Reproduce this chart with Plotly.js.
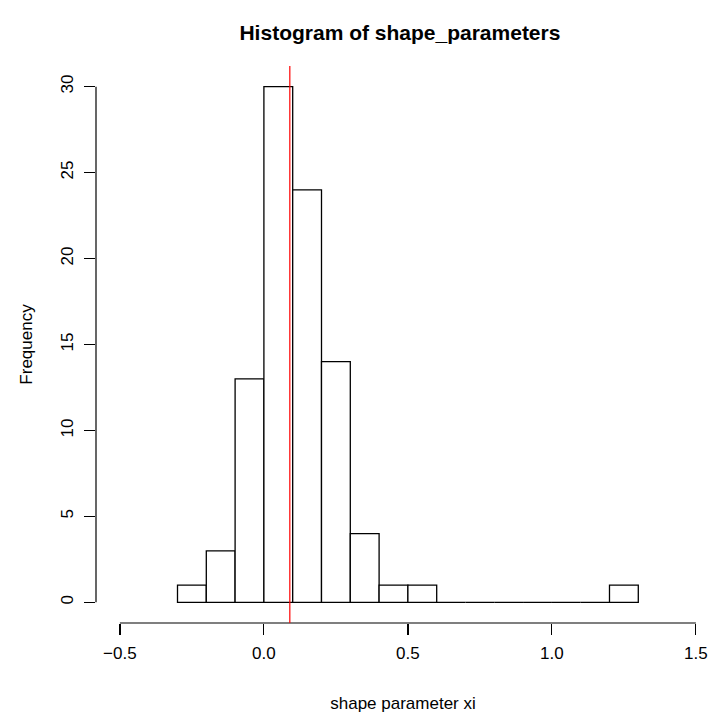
<!DOCTYPE html>
<html>
<head>
<meta charset="utf-8">
<script src="https://cdn.plot.ly/plotly-3.0.1.min.js"></script>
<style>html,body{margin:0;padding:0;background:#fff;}#chart{width:710px;height:713px;}</style>
</head>
<body>
<div id="chart"></div>
<script>
// Histogram bins (left edges, bin width 0.1) and counts
const binLeft = [-0.3, -0.2, -0.1, 0.0, 0.1, 0.2, 0.3, 0.4, 0.5, 0.6, 0.7, 0.8, 0.9, 1.0, 1.1, 1.2];
const counts  = [1, 3, 13, 30, 24, 14, 4, 1, 1, 0, 0, 0, 0, 0, 0, 1];
const binWidth = 0.1;
const xTicks = [-0.5, 0.0, 0.5, 1.0, 1.5];
const xTickLabels = ["\u22120.5", "0.0", "0.5", "1.0", "1.5"];
const yTicks = [0, 5, 10, 15, 20, 25, 30];
const refLine = 0.09;

const FONT = "Liberation Sans, Arial, Helvetica, sans-serif";

const trace = {
  type: "bar",
  x: binLeft,
  y: counts,
  width: binWidth,
  offset: 0,
  marker: {color: "#ffffff", line: {color: "#000000", width: 1.3}},
  hoverinfo: "x+y"
};

const layout = {
  width: 710, height: 713,
  paper_bgcolor: "#ffffff", plot_bgcolor: "#ffffff",
  margin: {l: 96, r: 0, t: 66, b: 90, pad: 0},
  showlegend: false,
  bargap: 0,
  title: {
    text: "<b>Histogram of shape_parameters</b>",
    font: {family: FONT, size: 21, color: "#000"},
    x: 0.495, xref: "paper", xanchor: "center",
    y: 27, yref: "container", yanchor: "middle"
  },
  xaxis: {
    range: [-0.583, 1.549],
    tickmode: "array", tickvals: xTicks, ticktext: xTickLabels,
    ticks: "outside", ticklen: 11, tickwidth: 1.2, tickcolor: "#000",
    showline: false, showgrid: false, zeroline: false,
    tickfont: {family: FONT, size: 17, color: "#000"},
    ticklabelstandoff: 4,
    title: {text: "shape parameter xi", font: {family: FONT, size: 17, color: "#000"}, standoff: 36}
  },
  yaxis: {
    range: [-1.2, 31.2],
    tickmode: "array", tickvals: yTicks,
    ticks: "outside", ticklen: 11, tickwidth: 1.2, tickcolor: "#000",
    tickangle: -90,
    showline: false, showgrid: false, zeroline: false,
    tickfont: {family: FONT, size: 17, color: "#000"},
    ticklabelstandoff: 4,
    title: {text: "Frequency", font: {family: FONT, size: 17, color: "#000"}, standoff: 21}
  },
  shapes: [
    {type: "line", xref: "x", yref: "paper", x0: xTicks[0], x1: xTicks[xTicks.length-1], y0: 0, y1: 0,
     line: {color: "#000", width: 1.2}},
    {type: "line", xref: "paper", yref: "y", x0: 0, x1: 0, y0: yTicks[0], y1: yTicks[yTicks.length-1],
     line: {color: "#000", width: 1.2}},
    {type: "line", xref: "x", yref: "paper", x0: refLine, x1: refLine, y0: 0, y1: 1,
     line: {color: "#ff0000", width: 1.2}}
  ]
};

Plotly.newPlot("chart", [trace], layout, {displayModeBar: false, staticPlot: true});
</script>
</body>
</html>
